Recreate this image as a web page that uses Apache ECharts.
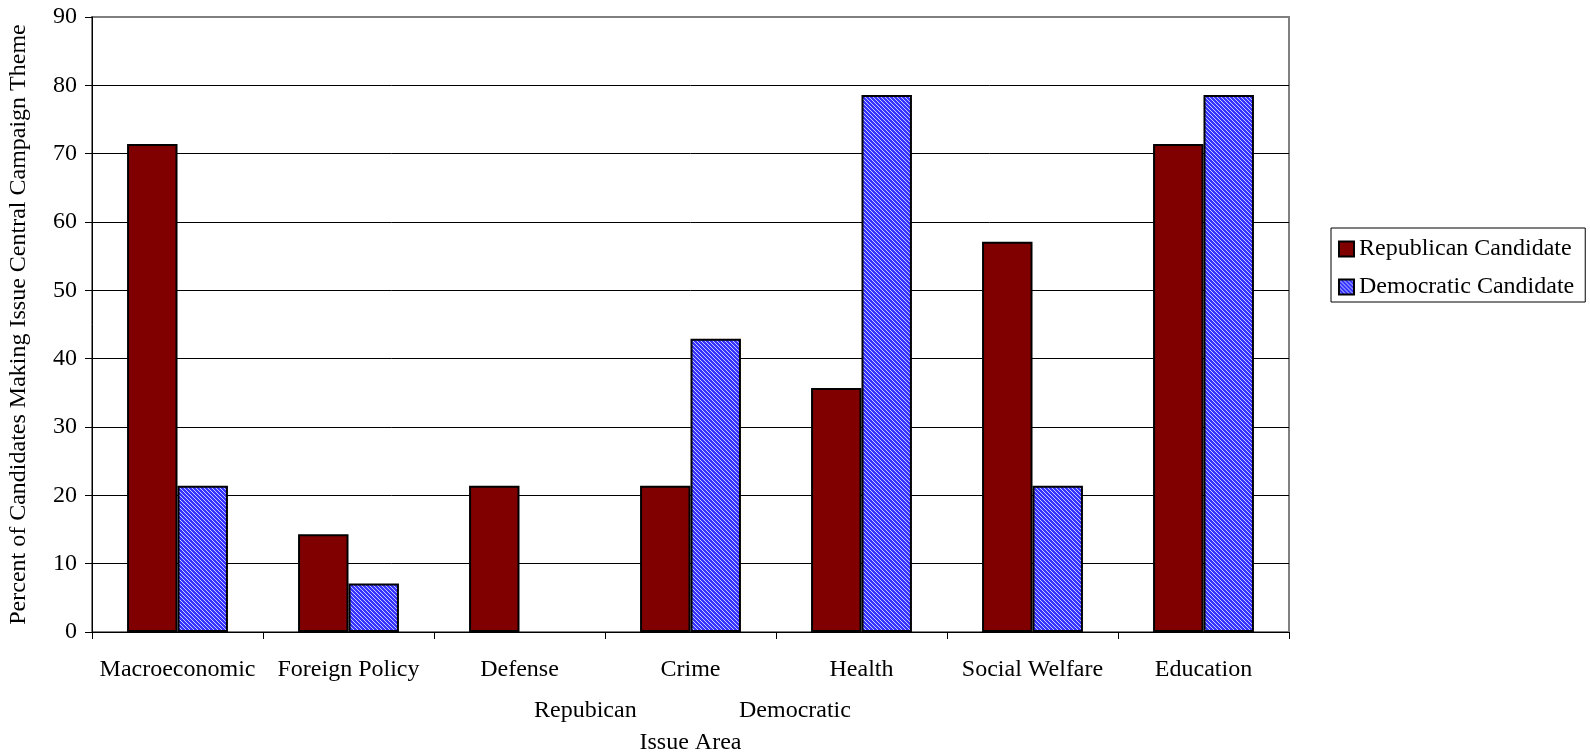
<!DOCTYPE html>
<html>
<head>
<meta charset="utf-8">
<script src="https://cdn.jsdelivr.net/npm/echarts@6/dist/echarts.min.js"></script>
<style>
  html, body { margin: 0; padding: 0; background: #fff; }
  #main { width: 1590px; height: 755px; }
</style>
</head>
<body>
<div id="main"></div>
<script>
var categories = ['Macroeconomic', 'Foreign Policy', 'Defense', 'Crime', 'Health', 'Social Welfare', 'Education'];
var republican = [71.4, 14.3, 21.4, 21.4, 35.7, 57.1, 71.4];
var democratic = [21.4, 7.1, 0, 42.9, 78.6, 21.4, 78.6];
var yTicks = [0, 10, 20, 30, 40, 50, 60, 70, 80, 90];

// blue hatch fill, like the old excel pattern
function hatch() {
  var c = document.createElement('canvas');
  c.width = 4; c.height = 4;
  var ctx = c.getContext('2d');
  ctx.fillStyle = '#3535ff';
  ctx.fillRect(0, 0, 4, 4);
  ctx.fillStyle = '#c8c8ff';
  for (var i = 0; i < 4; i++) {
    ctx.fillRect(i, i, 1, 1);
  }
  return c;
}

// zero bars have no outline in the original
function withBorder(arr) {
  return arr.map(function (v) {
    return v === 0 ? { value: v, itemStyle: { borderWidth: 0 } } : v;
  });
}

var font = '"Liberation Serif", "Times New Roman", serif';
var chart = echarts.init(document.getElementById('main'));
var gridColors = yTicks.map(function (v, i) { return i === yTicks.length - 1 ? '#808080' : '#000'; });

var option = {
  animation: false,
  textStyle: { fontFamily: font, color: '#000' },
  grid: {
    left: 92, right: 301, top: 17, bottom: 123,
    outerBoundsMode: 'none',
    show: true, borderColor: '#808080', borderWidth: 2
  },
  legend: {
    orient: 'vertical',
    left: 1331, top: 228,
    padding: [9, 11, 3, 7],
    itemGap: 14,
    itemWidth: 15, itemHeight: 15,
    itemTextGap: 7,
    icon: 'rect',
    borderColor: '#000', borderWidth: 1,
    textStyle: { fontFamily: font, fontSize: 24, color: '#000' },
    data: ['Republican Candidate', 'Democratic Candidate']
  },
  xAxis: {
    type: 'category',
    data: categories,
    name: 'Issue Area',
    nameLocation: 'middle',
    nameGap: 99,
    nameTextStyle: { fontFamily: font, fontSize: 24, color: '#000' },
    axisLine: { lineStyle: { color: '#000', width: 1 } },
    axisTick: { show: true, interval: 0, length: 7, lineStyle: { color: '#000' } },
    axisLabel: { interval: 0, fontFamily: font, fontSize: 24, color: '#000', margin: 26 }
  },
  yAxis: {
    type: 'value',
    min: 0, max: 90, interval: 10,
    name: 'Percent of Candidates Making Issue Central Campaign Theme',
    nameLocation: 'middle',
    nameGap: 61,
    nameTextStyle: { fontFamily: font, fontSize: 24, color: '#000' },
    axisLine: { show: true, lineStyle: { color: '#000', width: 1 } },
    axisTick: { show: true, length: 7, lineStyle: { color: '#000' } },
    axisLabel: { fontFamily: font, fontSize: 24, color: '#000', margin: 15 },
    splitLine: { show: true, lineStyle: { color: gridColors, width: 1 } }
  },
  series: [
    {
      name: 'Republican Candidate',
      type: 'bar',
      data: withBorder(republican),
      barGap: '0%',
      barCategoryGap: '41%',
      itemStyle: { color: '#800000', borderColor: '#000', borderWidth: 2 }
    },
    {
      name: 'Democratic Candidate',
      type: 'bar',
      data: withBorder(democratic),
      itemStyle: { color: { image: hatch(), repeat: 'repeat' }, borderColor: '#000', borderWidth: 2 }
    }
  ],
  graphic: [
    { type: 'text', left: 534, top: 699, style: { text: 'Repubican', font: '24px ' + font, fill: '#000' } },
    { type: 'text', left: 739, top: 699, style: { text: 'Democratic', font: '24px ' + font, fill: '#000' } }
  ]
};
chart.setOption(option);
</script>
</body>
</html>
